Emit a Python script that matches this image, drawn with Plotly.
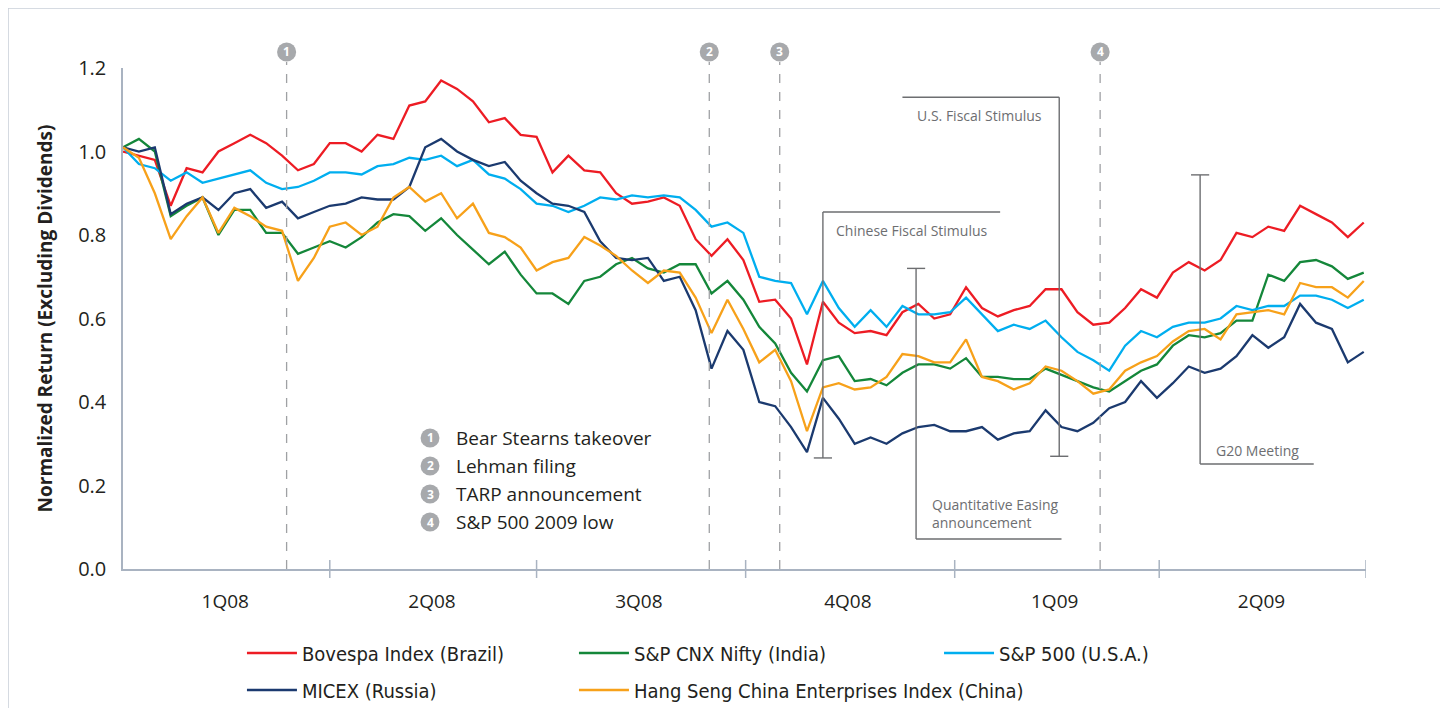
import pandas as pd
import plotly.graph_objects as go

# weekly samples, 1 Jan 2008 -> 30 Jun 2009
dates = pd.date_range("2008-01-01", periods=79, freq="7D")

bovespa = [1.00, 0.99, 0.98, 0.87, 0.96, 0.95, 1.00, 1.02, 1.04, 1.02, 0.99, 0.955, 0.97, 1.02, 1.02, 1.00,
           1.04, 1.03, 1.11, 1.12, 1.17, 1.15, 1.12, 1.07, 1.08, 1.04, 1.035, 0.95, 0.99, 0.955, 0.95, 0.90,
           0.875, 0.88, 0.89, 0.87, 0.79, 0.75, 0.79, 0.74, 0.64, 0.645, 0.60, 0.49, 0.64, 0.59, 0.565, 0.57,
           0.56, 0.615, 0.635, 0.60, 0.61, 0.675, 0.625, 0.605, 0.62, 0.63, 0.67, 0.67, 0.615, 0.585, 0.59,
           0.625, 0.67, 0.65, 0.71, 0.735, 0.715, 0.74, 0.805, 0.795, 0.82, 0.81, 0.87, 0.85, 0.83, 0.795, 0.83]

nifty = [1.01, 1.03, 1.00, 0.845, 0.87, 0.89, 0.80, 0.86, 0.86, 0.805, 0.805, 0.755, 0.77, 0.785, 0.77, 0.795,
         0.83, 0.85, 0.845, 0.81, 0.84, 0.80, 0.765, 0.73, 0.76, 0.705, 0.66, 0.66, 0.635, 0.69, 0.70, 0.73,
         0.745, 0.72, 0.71, 0.73, 0.73, 0.66, 0.69, 0.645, 0.58, 0.54, 0.47, 0.425, 0.50, 0.51, 0.45, 0.455,
         0.44, 0.47, 0.49, 0.49, 0.48, 0.505, 0.46, 0.46, 0.455, 0.455, 0.48, 0.465, 0.45, 0.435, 0.425,
         0.45, 0.475, 0.49, 0.535, 0.56, 0.555, 0.565, 0.595, 0.595, 0.705, 0.69, 0.735, 0.74, 0.725, 0.695, 0.71]

sp500 = [1.01, 0.97, 0.96, 0.93, 0.95, 0.925, 0.935, 0.945, 0.955, 0.925, 0.91, 0.915, 0.93, 0.95, 0.95, 0.945,
         0.965, 0.97, 0.985, 0.98, 0.99, 0.965, 0.98, 0.945, 0.935, 0.91, 0.875, 0.87, 0.855, 0.87, 0.89, 0.885,
         0.895, 0.89, 0.895, 0.89, 0.86, 0.82, 0.83, 0.805, 0.70, 0.69, 0.685, 0.61, 0.69, 0.625, 0.58, 0.62,
         0.58, 0.63, 0.61, 0.61, 0.615, 0.65, 0.61, 0.57, 0.585, 0.575, 0.595, 0.555, 0.52, 0.50, 0.475,
         0.535, 0.57, 0.555, 0.58, 0.59, 0.59, 0.60, 0.63, 0.62, 0.63, 0.63, 0.655, 0.655, 0.645, 0.625, 0.645]

micex = [1.01, 1.00, 1.01, 0.85, 0.875, 0.89, 0.86, 0.90, 0.91, 0.865, 0.88, 0.84, 0.855, 0.87, 0.875, 0.89,
         0.885, 0.885, 0.915, 1.01, 1.03, 1.00, 0.98, 0.965, 0.975, 0.93, 0.90, 0.875, 0.87, 0.855, 0.785, 0.745,
         0.74, 0.745, 0.69, 0.70, 0.62, 0.48, 0.57, 0.525, 0.40, 0.39, 0.34, 0.28, 0.41, 0.36, 0.30, 0.315,
         0.30, 0.325, 0.34, 0.345, 0.33, 0.33, 0.34, 0.31, 0.325, 0.33, 0.38, 0.34, 0.33, 0.35, 0.385,
         0.40, 0.45, 0.41, 0.445, 0.485, 0.47, 0.48, 0.51, 0.56, 0.53, 0.555, 0.635, 0.59, 0.575, 0.495, 0.52]

hang_seng = [1.01, 0.985, 0.90, 0.79, 0.845, 0.89, 0.805, 0.865, 0.845, 0.82, 0.81, 0.69, 0.745, 0.82, 0.83, 0.80,
             0.82, 0.89, 0.915, 0.88, 0.90, 0.84, 0.875, 0.805, 0.795, 0.77, 0.715, 0.735, 0.745, 0.795, 0.775, 0.75,
             0.715, 0.685, 0.715, 0.71, 0.65, 0.565, 0.645, 0.575, 0.495, 0.525, 0.45, 0.33, 0.435, 0.445, 0.43, 0.435,
             0.46, 0.515, 0.51, 0.495, 0.495, 0.55, 0.46, 0.45, 0.43, 0.445, 0.485, 0.475, 0.45, 0.42, 0.43,
             0.475, 0.495, 0.51, 0.545, 0.57, 0.575, 0.55, 0.61, 0.615, 0.62, 0.61, 0.685, 0.675, 0.675, 0.65, 0.69]

series_names = ["Bovespa Index (Brazil)", "S&P CNX Nifty (India)", "S&P 500 (U.S.A.)",
                "MICEX (Russia)", "Hang Seng China Enterprises Index (China)"]
series_values = [bovespa, nifty, sp500, micex, hang_seng]
series_colors = ["#ED1C24", "#14873A", "#00AEEF", "#1B3A6F", "#F7A11A"]

quarter_edges = ["2008-01-01", "2008-04-01", "2008-07-01", "2008-10-01", "2009-01-01", "2009-04-01", "2009-07-01"]
quarter_mids = ["2008-02-15", "2008-05-16", "2008-08-15", "2008-11-15", "2009-02-14", "2009-05-16"]
quarter_labels = ["1Q08", "2Q08", "3Q08", "4Q08", "1Q09", "2Q09"]

event_dates = ["2008-03-13", "2008-09-15", "2008-10-16", "2009-03-06"]
event_labels = ["Bear Stearns takeover", "Lehman filing", "TARP announcement", "S&P 500 2009 low"]

AXIS = "#A9B3C1"
NOTE = "#6D6E71"
EVENT = "#A7A9AC"

# one small legend per series, laid out as a 3 + 2 grid
legend_ids = ["legend", "legend2", "legend3", "legend4", "legend5"]
legend_x = [0.0957, 0.3628, 0.6565, 0.0957, 0.3628]
legend_y = [-0.1677, -0.1677, -0.1677, -0.2415, -0.2415]

fig = go.Figure()
for name, vals, col, lg in zip(series_names, series_values, series_colors, legend_ids):
    fig.add_trace(go.Scatter(x=dates, y=vals, name=name, mode="lines",
                             line=dict(color=col, width=2.3), legend=lg))

shapes = []
annotations = []

# outer frame
shapes.append(dict(type="rect", xref="paper", yref="paper", x0=-0.0925, x1=1.0644, y0=-0.4, y1=1.1198,
                   line=dict(color="#C9D0D9", width=1.5), layer="below"))

# quarter boundary ticks
for q in quarter_edges[1:]:
    shapes.append(dict(type="line", xref="x", yref="paper", x0=q, x1=q, y0=-0.018, y1=0.018,
                       line=dict(color=AXIS, width=1.5)))

# numbered event markers
day = pd.Timedelta(days=1)
for i, d in enumerate(event_dates):
    dt = pd.Timestamp(d)
    shapes.append(dict(type="line", xref="x", yref="paper", x0=d, x1=d, y0=0, y1=1.012,
                       line=dict(color="#9FA1A4", width=1.3, dash="dash")))
    shapes.append(dict(type="circle", xref="x", yref="paper", x0=dt - 4.2 * day, x1=dt + 4.2 * day,
                       y0=1.013, y1=1.051, fillcolor=EVENT, line=dict(width=0), layer="below"))
    annotations.append(dict(xref="x", yref="paper", x=d, y=1.032, xanchor="center", yanchor="middle",
                            text=f"<b>{i + 1}</b>", showarrow=False,
                            font=dict(color="white", size=12, family="Open Sans")))

# event key inside the plot
key_y = [0.2615, 0.2056, 0.1497, 0.0938]
for i, (lab, ky) in enumerate(zip(event_labels, key_y)):
    shapes.append(dict(type="circle", xref="paper", yref="paper", x0=0.247 - 0.0076, x1=0.247 + 0.0076,
                       y0=ky - 0.019, y1=ky + 0.019, fillcolor=EVENT, line=dict(width=0), layer="below"))
    annotations.append(dict(xref="paper", yref="paper", x=0.247, y=ky, xanchor="center", yanchor="middle",
                            text=f"<b>{i + 1}</b>", showarrow=False,
                            font=dict(color="white", size=12, family="Open Sans")))
    annotations.append(dict(xref="paper", yref="paper", x=0.266, y=ky, text=lab, xanchor="left",
                            yanchor="middle", showarrow=False,
                            font=dict(color="#231F20", size=19, family="Open Sans")))


def seg(x0, y0, x1, y1):
    shapes.append(dict(type="line", xref="x", yref="y", x0=x0, x1=x1, y0=y0, y1=y1,
                       line=dict(color=NOTE, width=1.4)))


def cap(d, y):
    dt = pd.Timestamp(d)
    seg(dt - 4 * day, y, dt + 4 * day, y)


note_font = dict(color=NOTE, size=14, family="Open Sans")

# Chinese fiscal stimulus
seg("2008-11-04", 0.855, "2008-11-04", 0.266)
seg("2008-11-04", 0.855, "2009-01-21", 0.855)
cap("2008-11-04", 0.266)
annotations.append(dict(x="2008-11-09", y=0.81, text="Chinese Fiscal Stimulus", xanchor="left",
                        showarrow=False, font=note_font))
# U.S. fiscal stimulus
seg("2009-02-16", 1.13, "2009-02-16", 0.27)
seg("2008-12-09", 1.13, "2009-02-16", 1.13)
cap("2009-02-16", 0.27)
annotations.append(dict(x="2009-01-12", y=1.087, text="U.S. Fiscal Stimulus", xanchor="center",
                        showarrow=False, font=note_font))
# quantitative easing
seg("2008-12-15", 0.72, "2008-12-15", 0.072)
seg("2008-12-15", 0.072, "2009-02-17", 0.072)
cap("2008-12-15", 0.72)
annotations.append(dict(x="2008-12-21", y=0.132, text="Quantitative Easing<br>announcement", xanchor="left",
                        align="left", showarrow=False, font=note_font))
# G20
seg("2009-04-19", 0.944, "2009-04-19", 0.2515)
seg("2009-04-19", 0.2515, "2009-06-08", 0.2515)
cap("2009-04-19", 0.944)
annotations.append(dict(x="2009-04-25", y=0.283, text="G20 Meeting", xanchor="left",
                        showarrow=False, font=note_font))

legend_font = dict(family="Liberation Sans Narrow, DejaVu Sans Condensed, Arial Narrow, sans-serif",
                   size=20, color="#231F20")

layout_legends = {}
for lg, lx, ly in zip(legend_ids, legend_x, legend_y):
    layout_legends[lg] = dict(orientation="h", x=lx, xanchor="left", y=ly, yanchor="middle",
                              font=legend_font, itemwidth=50, bgcolor="rgba(0,0,0,0)")

fig.update_layout(
    width=1440, height=730,
    margin=dict(l=115, r=82, t=60, b=169),
    paper_bgcolor="white", plot_bgcolor="white",
    font=dict(family="Open Sans, sans-serif", color="#231F20"),
    shapes=shapes, annotations=annotations,
    xaxis=dict(type="date", range=["2008-01-01", "2009-07-01"], tickvals=quarter_mids, ticktext=quarter_labels,
               ticks="", showgrid=False, zeroline=False, showline=True, linecolor=AXIS, linewidth=1.5,
               tickfont=dict(size=19, color="#231F20"), ticklabelstandoff=14),
    yaxis=dict(range=[0, 1.2], tickvals=[0, 0.2, 0.4, 0.6, 0.8, 1.0, 1.2], tickformat=".1f",
               ticks="", showgrid=False, zeroline=False, showline=True, linecolor=AXIS, linewidth=1.5,
               tickfont=dict(size=20, color="#231F20"), ticklabelstandoff=11,
               title=dict(text="Normalized Return (Excluding Dividends)", standoff=20,
                          font=dict(size=19, weight="bold", color="#231F20"))),
    showlegend=True,
    **layout_legends,
)

fig.write_html("out.html")
